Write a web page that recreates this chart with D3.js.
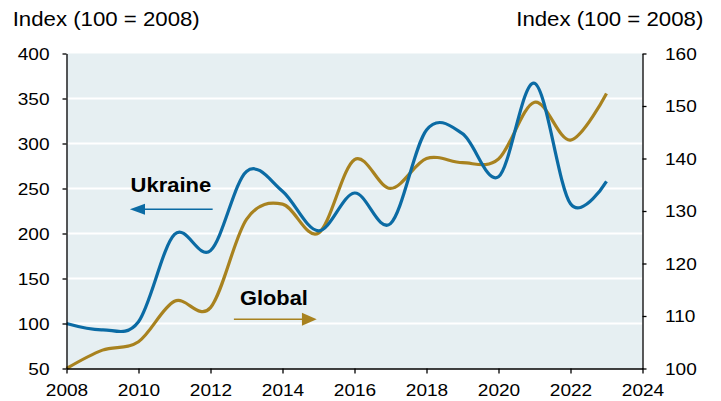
<!DOCTYPE html>
<meta charset="utf-8">
<html>
<head>
  <title>Ukraine vs global index</title>
  <script src="https://cdn.jsdelivr.net/npm/d3@7"></script>
</head>
<style>
  body { margin: 0; background: #fff; }
  text { font-family: 'Liberation Sans', Arial, sans-serif; fill: #000; }
</style>
<body>
<script>

  // data
  var years   = [2008, 2009, 2010, 2011, 2012, 2013, 2014, 2015, 2016, 2017, 2018, 2019, 2020, 2021, 2022, 2023];
  var ukraine = [100, 93, 102, 199, 181, 269, 247, 203, 245, 211, 315, 311, 263, 367, 233, 258];
  var global  = [100, 103.5, 105.1, 112.8, 111.6, 128.4, 131.3, 125.8, 139.8, 134.3, 140.0, 139.2, 139.9, 150.7, 143.5, 152.4];

  var xTicks = [2008, 2010, 2012, 2014, 2016, 2018, 2020, 2022, 2024];
  var leftTicks  = [50, 100, 150, 200, 250, 300, 350, 400];
  var rightTicks = [100, 110, 120, 130, 140, 150, 160];
  var gridTicks  = [100, 150, 200, 250, 300, 350];

  var blue = "#0b6ba4", gold = "#a8821f";
  var sx = 1.17; // the picture's text is a bit stretched sideways

  var svg = d3.select("body").append("svg")
      .attr("width", 721)
      .attr("height", 401);

  var x  = d3.scaleLinear().domain([2008, 2024]).range([66.5, 642.5]);
  var yL = d3.scaleLinear().domain([50, 400]).range([368.5, 53.5]);
  var yR = d3.scaleLinear().domain([100, 160]).range([368.5, 53.5]);

  // stretched text helper
  function label(g, px, py, str, size, weight, anchor, stretch) {
    return g.append("text")
      .attr("transform", "translate(" + px + "," + py + ") scale(" + (stretch || sx) + ",1)")
      .attr("font-size", size)
      .attr("font-weight", weight || "normal")
      .attr("text-anchor", anchor || "start")
      .text(str);
  }

  //plot background and grid
  svg.append("rect")
      .attr("x", x(2008)).attr("y", yL(400))
      .attr("width", x(2024) - x(2008))
      .attr("height", yL(50) - yL(400))
      .attr("fill", "#e6eff2");

  svg.selectAll("grid")
      .data(gridTicks)
      .enter()
        .append("line")
        .attr("x1", x(2008)).attr("x2", x(2024))
        .attr("y1", function (d) { return yL(d); })
        .attr("y2", function (d) { return yL(d); })
        .attr("stroke", "#fff")
        .attr("stroke-width", 2);

  //lines
  var line = function (yScale) {
    return d3.line()
      .x(function (d, i) { return x(years[i]); })
      .y(function (d) { return yScale(d); })
      .curve(d3.curveCardinal.tension(0));
  };

  svg.append("path")
      .attr("d", line(yR)(global))
      .attr("fill", "none")
      .attr("stroke", gold)
      .attr("stroke-width", 3.2);

  svg.append("path")
      .attr("d", line(yL)(ukraine))
      .attr("fill", "none")
      .attr("stroke", blue)
      .attr("stroke-width", 3.2);

  //axes
  var gL = svg.append("g")
      .attr("transform", "translate(" + x(2008) + ",0)")
      .call(d3.axisLeft(yL).tickValues(leftTicks).tickSize(4).tickSizeOuter(0));
  gL.selectAll("text")
      .attr("x", null).attr("dy", null)
      .attr("font-size", 16.3)
      .attr("transform", "translate(-17,5.7) scale(" + sx + ",1)");

  var gR = svg.append("g")
      .attr("transform", "translate(" + x(2024) + ",0)")
      .call(d3.axisRight(yR).tickValues(rightTicks).tickSize(4).tickSizeOuter(0));
  gR.selectAll("text")
      .attr("x", null).attr("dy", null)
      .attr("font-size", 16.3)
      .attr("transform", "translate(22.5,5.7) scale(" + sx + ",1)");

  var gB = svg.append("g")
      .attr("transform", "translate(0," + yL(50) + ")")
      .call(d3.axisBottom(x).tickValues(xTicks).tickFormat(d3.format("d")).tickSize(5).tickSizeOuter(0));
  gB.selectAll("text")
      .attr("y", null).attr("dy", null)
      .attr("font-size", 16.3)
      .attr("transform", "translate(0,27) scale(" + sx + ",1)");

  svg.selectAll(".domain, .tick line")
      .attr("stroke", "#000")
      .attr("stroke-width", 1.3);
  svg.selectAll(".tick text").attr("fill", "#000").attr("font-family", null);

  //axis titles
  label(svg, 12.7, 26.3, "Index (100 = 2008)", 19.5, "normal", "start", 1.14);
  label(svg, 703.3, 26.3, "Index (100 = 2008)", 19.5, "normal", "end", 1.14);

  //series labels with arrows
  label(svg, x(2009.78), yL(246), "Ukraine", 20, "bold", "start", 1.1);
  svg.append("line")
      .attr("x1", x(2012.06)).attr("x2", x(2010.1))
      .attr("y1", yL(226.9)).attr("y2", yL(226.9))
      .attr("stroke", blue).attr("stroke-width", 1.5);
  svg.append("path")
      .attr("d", "M" + x(2009.76) + "," + yL(226.9) +
                 "L" + x(2010.18) + "," + (yL(226.9) - 5.5) +
                 "L" + x(2010.18) + "," + (yL(226.9) + 5.5) + "Z")
      .attr("fill", blue);

  label(svg, x(2012.82), yR(112.1), "Global", 20, "bold", "start", 1.09);
  svg.append("line")
      .attr("x1", x(2012.65)).attr("x2", x(2014.6))
      .attr("y1", yR(109.4)).attr("y2", yR(109.4))
      .attr("stroke", gold).attr("stroke-width", 1.5);
  svg.append("path")
      .attr("d", "M" + x(2014.95) + "," + yR(109.4) +
                 "L" + x(2014.54) + "," + (yR(109.4) - 6.5) +
                 "L" + x(2014.54) + "," + (yR(109.4) + 6.5) + "Z")
      .attr("fill", gold);

</script>
</body>
</html>
